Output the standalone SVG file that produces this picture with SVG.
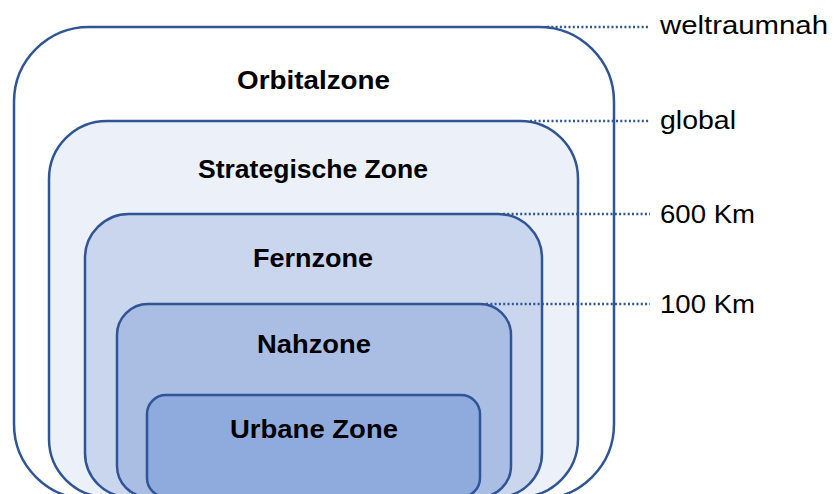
<svg xmlns="http://www.w3.org/2000/svg" width="834" height="494" viewBox="0 0 834 494">
<style>
.zone{stroke:#2F5597;stroke-width:2.5}
.title{font-family:"Liberation Sans",Arial,sans-serif;font-weight:bold;font-size:26px;fill:#000;text-anchor:start}
.lbl{font-family:"Liberation Sans",Arial,sans-serif;font-size:25px;fill:#000}
.dot{stroke:#2F5597;stroke-width:2.5;stroke-dasharray:2 2.3;fill:none}
</style>
<rect width="834" height="494" fill="#FFFFFF"/>
<g id="orbitalzone">
<rect class="zone" x="14" y="27" width="600" height="472" rx="75" ry="75" fill="#FFFFFF"/>
<text class="title" x="237" y="89" textLength="153" lengthAdjust="spacingAndGlyphs">Orbitalzone</text>
</g>
<g id="strategische-zone">
<rect class="zone" x="49" y="121" width="529" height="376" rx="58" ry="58" fill="#EBF0F9"/>
<text class="title" x="198" y="178" textLength="230" lengthAdjust="spacingAndGlyphs">Strategische Zone</text>
</g>
<g id="fernzone">
<rect class="zone" x="85" y="214" width="457" height="283" rx="44" ry="44" fill="#CAD6EE"/>
<text class="title" x="253" y="267" textLength="120" lengthAdjust="spacingAndGlyphs">Fernzone</text>
</g>
<g id="nahzone">
<rect class="zone" x="117" y="304" width="394" height="193" rx="31" ry="31" fill="#AABEE4"/>
<text class="title" x="257" y="353" textLength="114" lengthAdjust="spacingAndGlyphs">Nahzone</text>
</g>
<g id="urbane-zone">
<rect class="zone" x="147" y="395" width="333" height="102" rx="19" ry="19" fill="#8FAADC"/>
<text class="title" x="230" y="438" textLength="168" lengthAdjust="spacingAndGlyphs">Urbane Zone</text>
</g>
<g id="connectors">
<line class="dot" x1="547" y1="27" x2="650" y2="27"/>
<line class="dot" x1="530" y1="121" x2="650" y2="121"/>
<line class="dot" x1="503" y1="214" x2="650" y2="214"/>
<line class="dot" x1="486" y1="304" x2="650" y2="304"/>
</g>
<g id="labels">
<text class="lbl" x="660" y="34" textLength="168" lengthAdjust="spacingAndGlyphs">weltraumnah</text>
<text class="lbl" x="660" y="129" textLength="76" lengthAdjust="spacingAndGlyphs">global</text>
<text class="lbl" x="660" y="223" textLength="95" lengthAdjust="spacingAndGlyphs">600 Km</text>
<text class="lbl" x="660" y="313" textLength="95" lengthAdjust="spacingAndGlyphs">100 Km</text>
</g>
</svg>
